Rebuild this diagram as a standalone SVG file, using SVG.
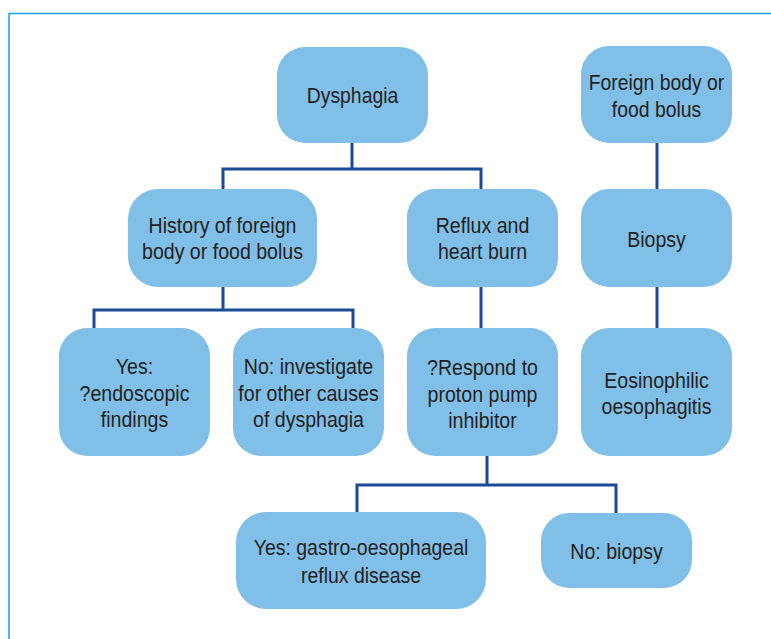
<svg xmlns="http://www.w3.org/2000/svg" width="771" height="639" viewBox="0 0 771 639">
<style>
.box{fill:#80bfe8;}
.t{font-family:"Liberation Sans",Arial,sans-serif;font-size:22px;fill:#231f20;text-anchor:middle;}
.c{fill:none;stroke:#1a4b94;stroke-width:3;}
.frame{fill:none;stroke:#1da1dc;stroke-width:1.5;}
</style>
<rect width="771" height="639" fill="#ffffff"/>
<path class="frame" d="M9,639 V13.5 H771"/>
<g id="connectors">
<path class="c" d="M352,143 V169 M223,190 V169 H481 V190"/>
<path class="c" d="M223,287 V310 M94,328 V310 H353 V328"/>
<path class="c" d="M481,287 V328"/>
<path class="c" d="M487,456 V485 M357,512 V485 H616 V513"/>
<path class="c" d="M657,143 V189 M657,287 V328"/>
</g>
<g id="dysphagia">
<rect class="box" x="277" y="47" width="151" height="96" rx="28"/>
<text class="t" transform="translate(352.5,103) scale(0.88,1)">Dysphagia</text>
</g>
<g id="foreign-body">
<rect class="box" x="581" y="46" width="151" height="97" rx="28"/>
<text class="t" transform="translate(656.5,90) scale(0.88,1)">Foreign body or</text>
<text class="t" transform="translate(656.5,117) scale(0.88,1)">food bolus</text>
</g>
<g id="history">
<rect class="box" x="128" y="189" width="189" height="98" rx="30"/>
<text class="t" transform="translate(222.5,233) scale(0.89,1)">History of foreign</text>
<text class="t" transform="translate(222.5,259) scale(0.89,1)">body or food bolus</text>
</g>
<g id="reflux">
<rect class="box" x="407" y="189" width="151" height="98" rx="28"/>
<text class="t" transform="translate(482.5,233) scale(0.89,1)">Reflux and</text>
<text class="t" transform="translate(482.5,259) scale(0.89,1)">heart burn</text>
</g>
<g id="biopsy">
<rect class="box" x="581" y="189" width="151" height="98" rx="28"/>
<text class="t" transform="translate(656.5,247) scale(0.89,1)">Biopsy</text>
</g>
<g id="yes-endoscopic">
<rect class="box" x="59" y="328" width="151" height="128" rx="28"/>
<text class="t" transform="translate(134.5,374) scale(0.89,1)">Yes:</text>
<text class="t" transform="translate(134.5,400.5) scale(0.89,1)">?endoscopic</text>
<text class="t" transform="translate(134.5,427) scale(0.89,1)">findings</text>
</g>
<g id="no-investigate">
<rect class="box" x="233" y="328" width="151" height="128" rx="28"/>
<text class="t" transform="translate(308.5,374) scale(0.89,1)">No: investigate</text>
<text class="t" transform="translate(308.5,400.5) scale(0.89,1)">for other causes</text>
<text class="t" transform="translate(308.5,427) scale(0.89,1)">of dysphagia</text>
</g>
<g id="respond-ppi">
<rect class="box" x="407" y="328" width="151" height="128" rx="28"/>
<text class="t" transform="translate(482.5,375) scale(0.89,1)">?Respond to</text>
<text class="t" transform="translate(482.5,401.5) scale(0.89,1)">proton pump</text>
<text class="t" transform="translate(482.5,427.5) scale(0.89,1)">inhibitor</text>
</g>
<g id="eosinophilic">
<rect class="box" x="581" y="328" width="151" height="128" rx="28"/>
<text class="t" transform="translate(656.5,388) scale(0.89,1)">Eosinophilic</text>
<text class="t" transform="translate(656.5,414) scale(0.89,1)">oesophagitis</text>
</g>
<g id="yes-gerd">
<rect class="box" x="236" y="512" width="250" height="97" rx="30"/>
<text class="t" transform="translate(361,555) scale(0.885,1)">Yes: gastro-oesophageal</text>
<text class="t" transform="translate(361,582.5) scale(0.885,1)">reflux disease</text>
</g>
<g id="no-biopsy">
<rect class="box" x="541" y="513" width="151" height="75" rx="28"/>
<text class="t" transform="translate(616.5,559) scale(0.89,1)">No: biopsy</text>
</g>
</svg>
